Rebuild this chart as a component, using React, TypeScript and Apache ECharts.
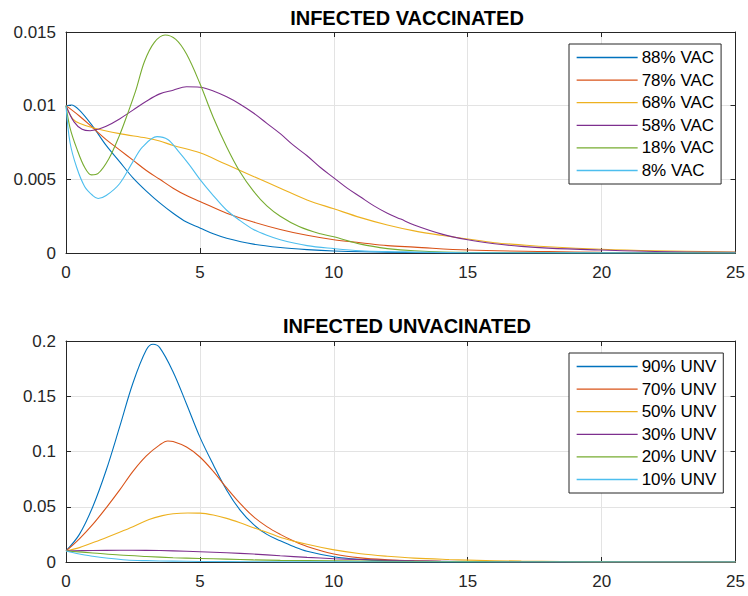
import React, { useEffect, useRef } from "react";
import * as echarts from "echarts";

// Infected vaccinated fractions, [day, fraction]
const vac88: [number, number][] = [
  [0, 0.01], [0.2, 0.01005], [0.5, 0.0097], [1, 0.0086], [1.5, 0.0073], [2, 0.0062],
  [2.5, 0.0051], [3, 0.0042], [3.5, 0.0034], [4, 0.0027], [4.5, 0.0021], [5, 0.0017],
  [5.5, 0.0013], [6, 0.001], [7, 0.0006], [8, 0.00037], [9, 0.00023], [10, 0.00014],
  [12, 0.00005], [15, 0.00001], [25, 0],
];
const vac78: [number, number][] = [
  [0, 0.01], [0.5, 0.0093], [1, 0.0085], [1.5, 0.0077], [2, 0.007], [2.5, 0.0063], [3, 0.0056],
  [3.5, 0.005], [4, 0.0044], [4.5, 0.0039], [5, 0.0035], [6, 0.0027], [7, 0.0021], [8, 0.0016],
  [9, 0.0012], [10, 0.0009], [11, 0.0007], [12, 0.0005], [13, 0.0004], [15, 0.0002],
  [18, 0.0001], [20, 0.00005], [25, 0.00002],
];
const vac68: [number, number][] = [
  [0, 0.01], [0.25, 0.0091], [0.5, 0.0088], [1, 0.0085], [2, 0.0081], [3, 0.0078], [3.5, 0.0076],
  [4, 0.0073], [5, 0.0068], [6, 0.006], [7, 0.0052], [8, 0.0044], [9, 0.0036], [10, 0.003],
  [11, 0.0024], [12, 0.0019], [13, 0.0015], [14, 0.0012], [15, 0.00095], [16, 0.0007],
  [17, 0.00055], [18, 0.00042], [20, 0.00025], [22, 0.00015], [25, 0.00007],
];
const vac58: [number, number][] = [
  [0, 0.01], [0.3, 0.0089], [0.6, 0.0084], [0.9, 0.0083], [1.2, 0.0084], [1.5, 0.0086],
  [2, 0.0091], [2.5, 0.0097], [3, 0.0103], [3.5, 0.0108], [4, 0.01105], [4.5, 0.01128],
  [5, 0.01125], [5.5, 0.011], [6, 0.0106], [6.5, 0.0101], [7, 0.0095], [7.5, 0.0088],
  [8, 0.0081], [8.5, 0.0073], [9, 0.0066], [9.5, 0.0058], [10, 0.0051], [10.5, 0.0044],
  [11, 0.0038], [11.5, 0.0032], [12, 0.0027], [12.5, 0.0023], [13, 0.0019], [14, 0.0013],
  [15, 0.0009], [16, 0.00063], [17, 0.00045], [18, 0.00033], [20, 0.0002], [22, 0.0001],
  [25, 0.00004],
];
const vac18: [number, number][] = [
  [0, 0.01], [0.15, 0.0085], [0.4, 0.0071], [0.7, 0.0058], [0.95, 0.0053], [1.2, 0.0054],
  [1.6, 0.0064], [2, 0.008], [2.25, 0.0092], [2.6, 0.011], [2.93, 0.013], [3.3, 0.0143],
  [3.7, 0.0148], [4.1, 0.0145], [4.5, 0.0135], [5, 0.0115], [5.5, 0.0092], [6, 0.0072],
  [6.5, 0.0055], [7, 0.0042], [7.5, 0.0032], [8, 0.0025], [8.7, 0.0018], [9.5, 0.0013],
  [10, 0.0011], [11, 0.0006], [12, 0.0003], [13, 0.00015], [15, 0.00004], [25, 0],
];
const vac8: [number, number][] = [
  [0, 0.01], [0.15, 0.0075], [0.4, 0.0058], [0.7, 0.0045], [1, 0.0039], [1.2, 0.0037],
  [1.5, 0.0039], [2, 0.0047], [2.5, 0.0062], [2.86, 0.0072], [3.4, 0.0079], [3.8, 0.0077],
  [4.2, 0.0069], [4.6, 0.006], [5, 0.005], [5.5, 0.0039], [6, 0.0029], [6.5, 0.0022],
  [7, 0.0016], [7.5, 0.0012], [8, 0.0009], [9, 0.0005], [10, 0.0003], [11, 0.00015],
  [12, 0.0001], [15, 0.00002], [25, 0],
];

// Infected unvaccinated fractions, [day, fraction]
const unv90: [number, number][] = [
  [0, 0.01], [0.5, 0.025], [1, 0.05], [1.5, 0.083], [2, 0.122], [2.5, 0.162], [3, 0.192],
  [3.25, 0.197], [3.5, 0.194], [4, 0.172], [4.5, 0.143], [5, 0.113], [5.5, 0.088],
  [6, 0.065], [6.5, 0.047], [7, 0.034], [7.5, 0.025], [8, 0.0192], [8.5, 0.014],
  [9, 0.0098], [10, 0.0048], [11, 0.0024], [12, 0.0012], [13, 0.0006], [15, 0.00015],
  [18, 0.00002], [25, 0],
];
const unv70: [number, number][] = [
  [0, 0.01], [0.5, 0.021], [1, 0.034], [1.5, 0.049], [2, 0.065], [2.5, 0.082], [3, 0.096],
  [3.5, 0.106], [3.8, 0.1095], [4, 0.109], [4.5, 0.104], [5, 0.095], [5.5, 0.082],
  [6, 0.067], [6.5, 0.053], [7, 0.041], [7.5, 0.032], [8, 0.025], [8.5, 0.019], [9, 0.014],
  [10, 0.0072], [11, 0.0037], [12, 0.002], [13, 0.0011], [14, 0.0006], [15, 0.0004],
  [20, 0.00005], [25, 0],
];
const unv50: [number, number][] = [
  [0, 0.01], [0.5, 0.013], [1.27, 0.02], [2, 0.027], [2.5, 0.032], [3.1, 0.0385], [3.6, 0.042],
  [4, 0.0437], [4.55, 0.0444], [5, 0.0442], [5.5, 0.0425], [6, 0.0395], [6.5, 0.0355],
  [7, 0.031], [7.5, 0.027], [8.05, 0.022], [9, 0.016], [9.96, 0.0112], [11, 0.0075],
  [12, 0.0052], [13, 0.0035], [14.3, 0.0022], [15, 0.0017], [17, 0.0008], [20, 0.0003], [25, 0.0001],
];
const unv30: [number, number][] = [
  [0, 0.01], [1, 0.0104], [2, 0.0106], [3, 0.0105], [4, 0.0101], [5, 0.0093], [6, 0.0084],
  [7, 0.0072], [8, 0.0056], [9, 0.0042], [10, 0.003], [11, 0.0022], [12, 0.0015], [13, 0.001],
  [15, 0.0005], [20, 0.0001], [25, 0],
];
const unv20: [number, number][] = [
  [0, 0.01], [1, 0.0082], [2, 0.0063], [3, 0.005], [4, 0.0039], [5, 0.0032], [6, 0.0026],
  [7, 0.0019], [8, 0.0015], [10, 0.001], [12, 0.0006], [15, 0.0003], [20, 0.0001], [25, 0],
];
const unv10: [number, number][] = [
  [0, 0.01], [0.5, 0.0072], [1, 0.0052], [1.5, 0.0036], [2.26, 0.0018], [3, 0.0012],
  [4, 0.0008], [5, 0.0005], [7, 0.0002], [10, 0.0001], [15, 0], [25, 0],
];

const vacNames = ["88% VAC", "78% VAC", "68% VAC", "58% VAC", "18% VAC", "8% VAC"];
const unvNames = ["90% UNV", "70% UNV", "50% UNV", "30% UNV", "20% UNV", "10% UNV"];
const vacData = [vac88, vac78, vac68, vac58, vac18, vac8];
const unvData = [unv90, unv70, unv50, unv30, unv20, unv10];

const palette = ["#0072BD", "#D95319", "#EDB120", "#7E2F8E", "#77AC30", "#4DBEEE"];

const FONT = "'Liberation Sans', Arial, Helvetica, sans-serif";
const AXIS_COLOR = "#262626";

function primaryX(gridIndex: number) {
  return {
    type: "value",
    gridIndex,
    min: 0,
    max: 25,
    interval: 5,
    axisLine: { show: true, onZero: false, lineStyle: { color: AXIS_COLOR, width: 1 } },
    axisTick: { show: true, inside: true, length: 5, lineStyle: { color: AXIS_COLOR } },
    axisLabel: { color: AXIS_COLOR, fontSize: 17, fontFamily: FONT, margin: 11 },
    splitLine: { show: true, lineStyle: { color: "#e3e3e3", width: 1 } },
  };
}
function mirrorX(gridIndex: number) {
  return {
    type: "value",
    gridIndex,
    position: "top",
    min: 0,
    max: 25,
    interval: 5,
    axisLine: { show: true, onZero: false, lineStyle: { color: AXIS_COLOR, width: 1 } },
    axisTick: { show: true, inside: true, length: 5, lineStyle: { color: AXIS_COLOR } },
    axisLabel: { show: false },
    splitLine: { show: false },
  };
}
function primaryY(gridIndex: number, max: number, interval: number) {
  return {
    type: "value",
    gridIndex,
    min: 0,
    max,
    interval,
    axisLine: { show: true, onZero: false, lineStyle: { color: AXIS_COLOR, width: 1 } },
    axisTick: { show: true, inside: true, length: 5, lineStyle: { color: AXIS_COLOR } },
    axisLabel: { color: AXIS_COLOR, fontSize: 17, fontFamily: FONT, margin: 10 },
    splitLine: { show: true, lineStyle: { color: "#e3e3e3", width: 1 } },
  };
}
function mirrorY(gridIndex: number, max: number, interval: number) {
  return {
    type: "value",
    gridIndex,
    position: "right",
    min: 0,
    max,
    interval,
    axisLine: { show: true, onZero: false, lineStyle: { color: AXIS_COLOR, width: 1 } },
    axisTick: { show: true, inside: true, length: 5, lineStyle: { color: AXIS_COLOR } },
    axisLabel: { show: false },
    splitLine: { show: false },
  };
}

function legendFor(names: string[], top: number) {
  return {
    data: names,
    orient: "vertical",
    left: 569,
    top,
    padding: [5, 7, 5, 7],
    itemWidth: 61,
    itemHeight: 17,
    itemGap: 5.6,
    // keep only the line segment of each key, no marker
    itemStyle: { opacity: 0 },
    lineStyle: { width: 1.3 },
    borderColor: AXIS_COLOR,
    borderWidth: 1,
    backgroundColor: "#ffffff",
    textStyle: { fontSize: 17, color: "#000", fontFamily: FONT, padding: [0, 0, 0, -1] },
  };
}

export default function App() {
  const ref = useRef<HTMLDivElement>(null);

  useEffect(() => {
    if (!ref.current) return;
    const chart = echarts.init(ref.current, null, { renderer: "svg" });

    const series: any[] = [];
    vacData.forEach((d, i) => {
      series.push({
        name: vacNames[i],
        type: "line",
        xAxisIndex: 0,
        yAxisIndex: 0,
        data: d,
        symbol: "none",
        smooth: 0.35,
        lineStyle: { color: palette[i], width: 1.1 },
        itemStyle: { color: palette[i] },
      });
    });
    unvData.forEach((d, i) => {
      series.push({
        name: unvNames[i],
        type: "line",
        xAxisIndex: 2,
        yAxisIndex: 2,
        data: d,
        symbol: "none",
        smooth: 0.35,
        lineStyle: { color: palette[i], width: 1.1 },
        itemStyle: { color: palette[i] },
      });
    });

    chart.setOption({
      animation: false,
      backgroundColor: "#ffffff",
      textStyle: { fontFamily: FONT },
      title: [
        {
          text: "INFECTED VACCINATED",
          left: 402,
          top: 3,
          textAlign: "center",
          textStyle: { fontSize: 20, fontWeight: "bold", color: "#000", fontFamily: FONT },
        },
        {
          text: "INFECTED UNVACINATED",
          left: 402,
          top: 311,
          textAlign: "center",
          textStyle: { fontSize: 20, fontWeight: "bold", color: "#000", fontFamily: FONT },
        },
      ],
      grid: [
        { left: 66, top: 32, width: 672, height: 221 },
        { left: 66, top: 341, width: 672, height: 221 },
      ],
      xAxis: [primaryX(0), mirrorX(0), primaryX(1), mirrorX(1)],
      yAxis: [
        primaryY(0, 0.015, 0.005),
        mirrorY(0, 0.015, 0.005),
        primaryY(1, 0.2, 0.05),
        mirrorY(1, 0.2, 0.05),
      ],
      legend: [legendFor(vacNames, 44), legendFor(unvNames, 353)],
      series,
    });

    return () => chart.dispose();
  }, []);

  return (
    <div
      ref={ref}
      style={{ position: "absolute", left: 0, top: 0, width: 748, height: 596 }}
    />
  );
}
